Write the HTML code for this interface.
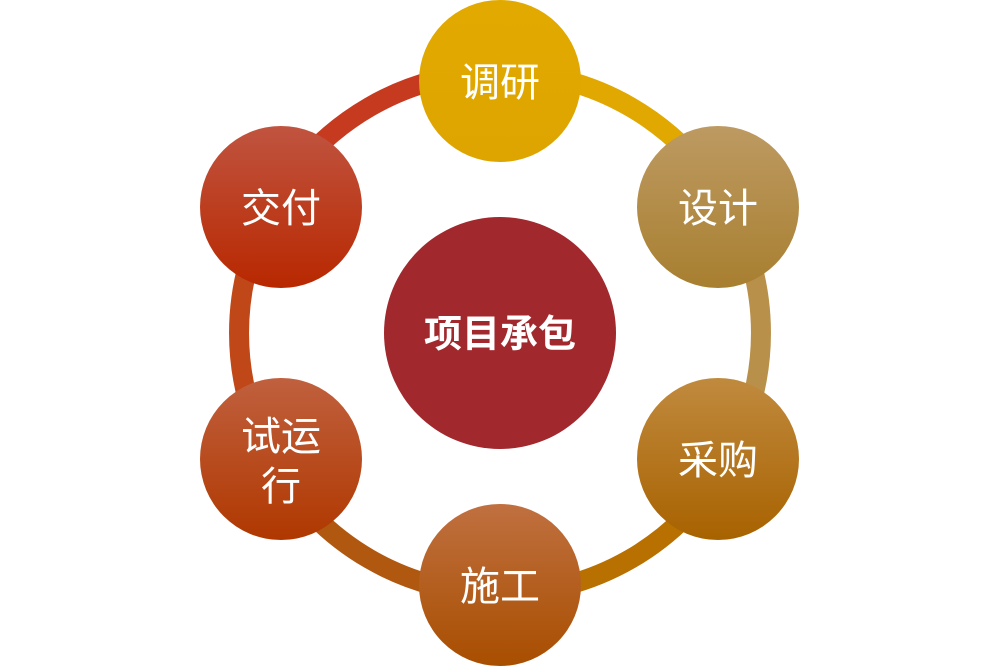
<!DOCTYPE html>
<html><head><meta charset="utf-8"><style>
html,body{margin:0;padding:0;background:#fff;}
svg text{font-family:"Liberation Sans","Noto Sans CJK SC",sans-serif;fill:#fff;}
</style></head><body>
<svg width="1001" height="667" viewBox="0 0 1001 667" xmlns="http://www.w3.org/2000/svg">
<defs>
<linearGradient id="g1" x1="0" y1="0" x2="0" y2="1"><stop offset="0" stop-color="#e2aa00"/><stop offset="1" stop-color="#dea400"/></linearGradient>
<linearGradient id="g2" x1="0" y1="0" x2="0" y2="1"><stop offset="0" stop-color="#bd9a62"/><stop offset="1" stop-color="#a87f30"/></linearGradient>
<linearGradient id="g3" x1="0" y1="0" x2="0" y2="1"><stop offset="0" stop-color="#c08a3e"/><stop offset="1" stop-color="#a86200"/></linearGradient>
<linearGradient id="g4" x1="0" y1="0" x2="0" y2="1"><stop offset="0" stop-color="#c07040"/><stop offset="1" stop-color="#a84e00"/></linearGradient>
<linearGradient id="g5" x1="0" y1="0" x2="0" y2="1"><stop offset="0" stop-color="#c0603e"/><stop offset="1" stop-color="#b03800"/></linearGradient>
<linearGradient id="g6" x1="0" y1="0" x2="0" y2="1"><stop offset="0" stop-color="#c05440"/><stop offset="1" stop-color="#b82800"/></linearGradient>
</defs>
<g fill="none" stroke-width="20">
<path d="M500 72 A261 261 0 0 1 726 202.5" stroke="#e0a800"/>
<path d="M726 202.5 A261 261 0 0 1 726 463.5" stroke="#b8904a"/>
<path d="M726 463.5 A261 261 0 0 1 500 594" stroke="#b87000"/>
<path d="M500 594 A261 261 0 0 1 274 463.5" stroke="#b05810"/>
<path d="M274 463.5 A261 261 0 0 1 274 202.5" stroke="#c04818"/>
<path d="M274 202.5 A261 261 0 0 1 500 72" stroke="#c63a20"/>
</g>
<circle cx="500" cy="333" r="116" fill="#a1282d"/>
<text x="500" y="347" font-size="38" font-weight="bold" text-anchor="middle">项目承包</text>
<circle cx="500" cy="81" r="81" fill="url(#g1)"/>
<text x="500" y="96" font-size="40" text-anchor="middle">调研</text>
<circle cx="718" cy="207" r="81" fill="url(#g2)"/>
<text x="718" y="222" font-size="40" text-anchor="middle">设计</text>
<circle cx="718" cy="459" r="81" fill="url(#g3)"/>
<text x="718" y="474" font-size="40" text-anchor="middle">采购</text>
<circle cx="500" cy="585" r="81" fill="url(#g4)"/>
<text x="500" y="600" font-size="40" text-anchor="middle">施工</text>
<circle cx="281" cy="459" r="81" fill="url(#g5)"/>
<text x="281" y="450" font-size="40" text-anchor="middle">试运</text>
<text x="281" y="500" font-size="40" text-anchor="middle">行</text>
<circle cx="281" cy="207" r="81" fill="url(#g6)"/>
<text x="281" y="222" font-size="40" text-anchor="middle">交付</text>
</svg>
</body></html>
